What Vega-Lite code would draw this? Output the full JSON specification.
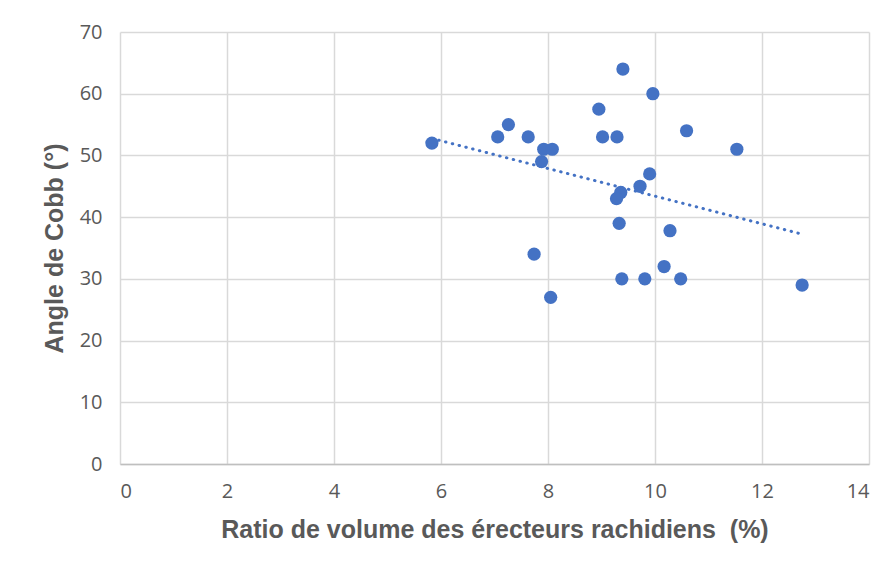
{
  "$schema": "https://vega.github.io/schema/vega-lite/v6.json",
  "autosize": {"type": "none"},
  "width": 749,
  "height": 432,
  "padding": {"left": 120, "top": 32, "right": 27, "bottom": 110},
  "background": "white",
  "config": {"view": {"stroke": null}},
  "data": {"values": [
    {"ratio": 5.83, "cobb": 52},
    {"ratio": 7.06, "cobb": 53},
    {"ratio": 7.26, "cobb": 55},
    {"ratio": 7.63, "cobb": 53},
    {"ratio": 7.92, "cobb": 51},
    {"ratio": 8.08, "cobb": 51},
    {"ratio": 7.88, "cobb": 49},
    {"ratio": 7.74, "cobb": 34},
    {"ratio": 8.05, "cobb": 27},
    {"ratio": 8.95, "cobb": 57.5},
    {"ratio": 9.02, "cobb": 53},
    {"ratio": 9.29, "cobb": 53},
    {"ratio": 9.40, "cobb": 64},
    {"ratio": 9.96, "cobb": 60},
    {"ratio": 10.59, "cobb": 54},
    {"ratio": 11.53, "cobb": 51},
    {"ratio": 9.90, "cobb": 47},
    {"ratio": 9.72, "cobb": 45},
    {"ratio": 9.36, "cobb": 44},
    {"ratio": 9.28, "cobb": 43},
    {"ratio": 9.33, "cobb": 39},
    {"ratio": 10.28, "cobb": 37.8},
    {"ratio": 9.38, "cobb": 30},
    {"ratio": 9.81, "cobb": 30},
    {"ratio": 10.48, "cobb": 30},
    {"ratio": 10.17, "cobb": 32},
    {"ratio": 12.75, "cobb": 29}
  ]},
  "encoding": {
    "x": {
      "field": "ratio", "type": "quantitative",
      "scale": {"domain": [0, 14], "nice": false, "zero": false},
      "axis": {
        "values": [0, 2, 4, 6, 8, 10, 12, 14],
        "title": "Ratio de volume des érecteurs rachidiens \u00a0(%)",
        "titleFont": "Liberation Sans", "titleFontSize": 25, "titleFontWeight": "bold",
        "titleColor": "#595959", "titlePadding": 16,
        "labelFont": "Open Sans", "labelFontSize": 20, "labelColor": "#595959",
        "labelPadding": 17,
        "ticks": false,
        "domainColor": "#bfbfbf", "domainWidth": 1.5,
        "gridColor": "#d9d9d9", "gridWidth": 1.5
      }
    },
    "y": {
      "field": "cobb", "type": "quantitative",
      "scale": {"domain": [0, 70], "nice": false},
      "axis": {
        "values": [0, 10, 20, 30, 40, 50, 60, 70],
        "title": "Angle de Cobb (°)",
        "titleFont": "Liberation Sans", "titleFontSize": 25, "titleFontWeight": "bold",
        "titleColor": "#595959", "titlePadding": 12,
        "labelFont": "Open Sans", "labelFontSize": 20, "labelColor": "#595959",
        "labelPadding": 18,
        "ticks": false, "domain": false,
        "gridColor": "#d9d9d9", "gridWidth": 1.5
      }
    }
  },
  "layer": [
    {
      "mark": {"type": "point", "filled": true, "shape": "circle", "size": 175, "color": "#4472C4", "opacity": 1}
    },
    {
      "transform": [{"regression": "cobb", "on": "ratio"}],
      "mark": {"type": "line", "color": "#4472C4", "strokeWidth": 3, "strokeDash": [0.5, 6.5], "strokeCap": "round"}
    }
  ]
}
